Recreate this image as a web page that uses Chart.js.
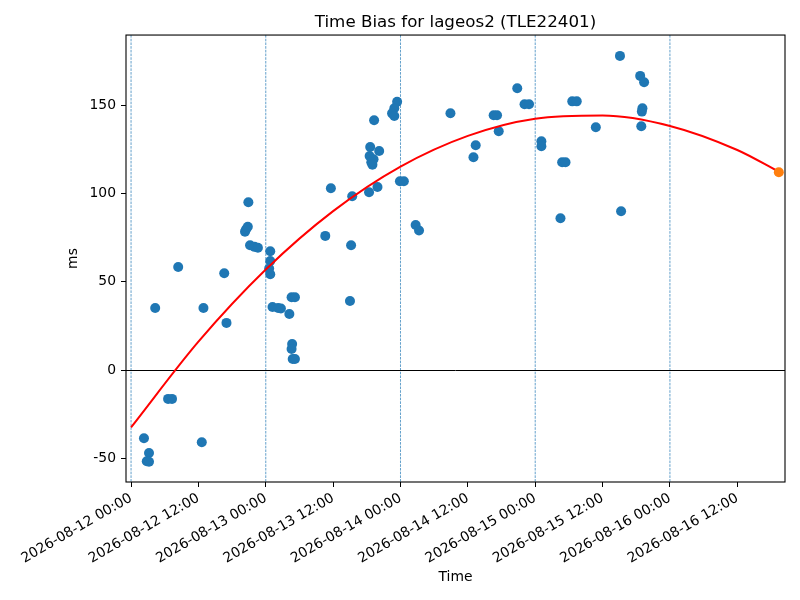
<!DOCTYPE html>
<html>
<head>
<meta charset="utf-8">
<script src="https://cdn.jsdelivr.net/npm/chart.js@4.4.0/dist/chart.umd.min.js"></script>
<style>
  html, body { margin: 0; padding: 0; background: #fff; }
</style>
</head>
<body>
<canvas id="chart" width="800" height="600"></canvas>
<script>
"use strict";

// Hours after 2026-08-12 00:00 and time bias (ms)
var obsHours = [2.3, 3.2, 2.8, 3.2, 4.3, 6.6, 7.3, 8.4, 12.6, 12.9,
    16.6, 17.0, 20.9, 20.3, 20.5, 20.8, 21.2, 22.0, 22.6, 24.8,
    24.8, 24.6, 24.8, 25.2, 26.2, 26.7, 28.2, 28.6, 29.2, 28.7,
    28.6, 28.8, 29.2, 34.6, 35.6, 39.0, 39.2, 39.4, 42.4, 43.9,
    43.3, 42.6, 44.2, 42.5, 43.2, 42.8, 43.0, 47.4, 46.9, 46.5,
    46.9, 47.9, 48.6, 50.7, 51.3, 56.9, 64.6, 65.2, 65.5, 61.4,
    61.0, 68.8, 70.1, 70.9, 73.1, 73.1, 76.8, 77.4, 76.5, 78.6,
    79.4, 82.8, 87.1, 90.7, 91.4, 91.1, 91.0, 90.9, 87.3];
var obsBias = [-38.5, -46.8, -51.5, -51.7, 35.2, -16.2, -16.2, 58.4, -40.7, 35.2,
    54.9, 26.8, 95.0, 78.4, 79.8, 81.2, 70.7, 69.8, 69.3, 67.3,
    61.8, 57.5, 54.3, 35.8, 35.2, 34.9, 31.8, 41.3, 41.3, 14.9,
    12.0, 6.4, 6.4, 76.0, 102.9, 39.2, 70.7, 98.4, 100.7, 103.7,
    141.4, 126.3, 124.0, 121.2, 119.3, 117.6, 116.3, 151.8, 148.2, 145.3,
    143.8, 106.9, 106.9, 82.2, 79.0, 145.4, 144.2, 144.2, 135.2, 127.3,
    120.5, 159.5, 150.5, 150.5, 129.5, 126.7, 117.6, 117.6, 86.0, 152.1,
    152.1, 137.4, 177.8, 166.5, 162.9, 148.2, 146.3, 138.0, 89.9];

// predicted point at the end of the fit
var predHours = [115.4];
var predBias = [112.0];

// fitted curve
var fitHours = [0, 12, 24, 36, 48, 60, 72, 84, 96, 108, 115.4];
var fitBias = [-32.3, 16.2, 57.0, 90.0, 115.2, 132.6, 142.3, 144.1, 138.2, 124.6, 112.3];

var midnightHours = [0, 24, 48, 72, 96];
var xTickHours = [0, 12, 24, 36, 48, 60, 72, 84, 96, 108];
var yTicks = [-50, 0, 50, 100, 150];

var startTime = Date.UTC(2026, 7, 12, 0, 0);

var pad2 = function (n) {
    return (n < 10 ? '0' : '') + n;
};

var formatHour = function (h) {
    var d = new Date(startTime + h * 3600 * 1000);
    return d.getUTCFullYear() + '-' + pad2(d.getUTCMonth() + 1) + '-' + pad2(d.getUTCDate()) +
        ' ' + pad2(d.getUTCHours()) + ':' + pad2(d.getUTCMinutes());
};

var toPoints = function (xs, ys) {
    return xs.map(function (x, i) { return { x: x, y: ys[i] }; });
};

var font = { family: 'DejaVu Sans', size: 13.9 };

// midnight markers, zero line and the box round the axes
var axesDecor = {
    id: 'axesDecor',
    beforeDatasetsDraw: function (chart) {
        var ctx = chart.ctx;
        var area = chart.chartArea;
        var xs = chart.scales.x;
        var ys = chart.scales.y;
        ctx.save();
        ctx.strokeStyle = '#1f77b4';
        ctx.lineWidth = 0.7;
        ctx.setLineDash([2.6, 1.1]);
        midnightHours.forEach(function (h) {
            var px = xs.getPixelForValue(h);
            ctx.beginPath();
            ctx.moveTo(px, area.top);
            ctx.lineTo(px, area.bottom);
            ctx.stroke();
        });
        ctx.setLineDash([]);
        ctx.strokeStyle = '#000';
        ctx.lineWidth = 1;
        var py = Math.round(ys.getPixelForValue(0)) + 0.5;
        ctx.beginPath();
        ctx.moveTo(area.left, py);
        ctx.lineTo(area.right, py);
        ctx.stroke();
        ctx.restore();
    },
    afterDraw: function (chart) {
        var ctx = chart.ctx;
        var area = chart.chartArea;
        ctx.save();
        ctx.strokeStyle = '#000';
        ctx.lineWidth = 1.1;
        ctx.strokeRect(area.left, area.top, area.right - area.left, area.bottom - area.top);
        ctx.restore();
    }
};

Chart.defaults.color = '#000';
Chart.defaults.font.family = 'DejaVu Sans';

var config = {
    type: 'scatter',
    data: {
        datasets: [
            {
                label: 'prediction',
                data: toPoints(predHours, predBias),
                backgroundColor: '#ff7f0e',
                borderWidth: 0,
                pointRadius: 5,
                order: -1
            },
            {
                label: 'fit',
                type: 'line',
                data: toPoints(fitHours, fitBias),
                borderColor: '#ff0000',
                borderWidth: 2,
                pointRadius: 0,
                cubicInterpolationMode: 'monotone',
                fill: false,
                order: 0
            },
            {
                label: 'observed',
                data: toPoints(obsHours, obsBias),
                backgroundColor: '#1f77b4',
                borderWidth: 0,
                pointRadius: 5,
                order: 2
            }
        ]
    },
    options: {
        responsive: false,
        animation: false,
        events: [],
        layout: { padding: { left: 0, right: 15, top: 0, bottom: 0 } },
        plugins: {
            legend: { display: false },
            tooltip: { enabled: false },
            title: {
                display: true,
                text: 'Time Bias for lageos2 (TLE22401)',
                fullSize: false,
                color: '#000',
                font: { family: 'DejaVu Sans', size: 16.7, weight: 'normal' },
                padding: { top: 13, bottom: 2 }
            }
        },
        scales: {
            x: {
                type: 'linear',
                min: -0.9,
                max: 116.5,
                afterBuildTicks: function (scale) {
                    scale.ticks = xTickHours.map(function (v) { return { value: v }; });
                },
                afterFit: function (scale) {
                    scale.height = 118;
                },
                ticks: {
                    font: font,
                    color: '#000',
                    padding: 3,
                    maxRotation: 30,
                    minRotation: 30,
                    autoSkip: false,
                    callback: function (value) {
                        return formatHour(value);
                    }
                },
                grid: {
                    drawOnChartArea: false,
                    drawTicks: true,
                    tickLength: 5,
                    tickColor: '#000'
                },
                border: { display: false },
                title: {
                    display: true,
                    text: 'Time',
                    font: font,
                    color: '#000',
                    padding: { top: 4, bottom: 14.7 }
                }
            },
            y: {
                type: 'linear',
                min: -63.2,
                max: 189.6,
                afterBuildTicks: function (scale) {
                    scale.ticks = yTicks.map(function (v) { return { value: v }; });
                },
                afterFit: function (scale) {
                    scale.width = 126;
                },
                ticks: {
                    font: font,
                    color: '#000',
                    padding: 5
                },
                grid: {
                    drawOnChartArea: false,
                    drawTicks: true,
                    tickLength: 5,
                    tickColor: '#000'
                },
                border: { display: false },
                title: {
                    display: true,
                    text: 'ms',
                    font: font,
                    color: '#000',
                    padding: { top: 64.7, bottom: 4 }
                }
            }
        }
    },
    plugins: [axesDecor]
};

var ctx = document.getElementById('chart').getContext('2d');
new Chart(ctx, config);
</script>
</body>
</html>
